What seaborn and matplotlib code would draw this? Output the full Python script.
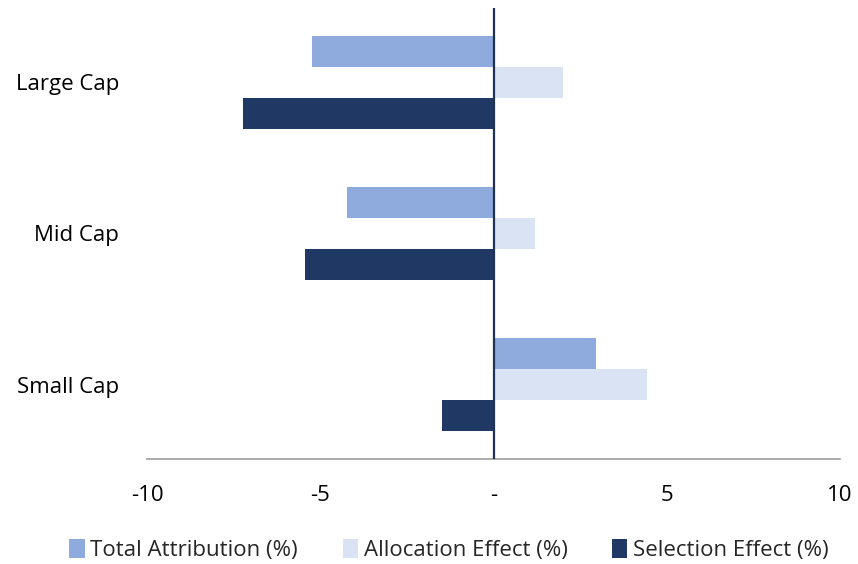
import matplotlib
matplotlib.use("Agg")
import matplotlib.pyplot as plt
import seaborn as sns
import pandas as pd

categories = ["Large Cap", "Mid Cap", "Small Cap"]
series = ["Total Attribution (%)", "Allocation Effect (%)", "Selection Effect (%)"]
total_attribution = [-5.25, -4.24, 2.97]
allocation_effect = [2.0, 1.21, 4.44]
selection_effect = [-7.24, -5.45, -1.50]
x_ticks = [-10, -5, 0, 5, 10]
x_tick_labels = ["-10", "-5", "-", "5", "10"]
colors = ["#8FAADC", "#DAE3F3", "#203864"]

rows = []
for s, vals in zip(series, [total_attribution, allocation_effect, selection_effect]):
    for c, v in zip(categories, vals):
        rows.append({"Category": c, "Series": s, "Value": v})
df = pd.DataFrame(rows)

sns.set_style("white")
plt.rcParams["font.family"] = ["Open Sans", "DejaVu Sans"]

fig = plt.figure(figsize=(8.58, 5.64), dpi=100)
ax = fig.add_axes([147/858, 1-459/564, (840-147)/858, (459-8)/564])

sns.barplot(data=df, x="Value", y="Category", hue="Series", order=categories,
            hue_order=series, palette=colors, orient="h", width=0.615,
            saturation=1, edgecolor="none", linewidth=0, ax=ax, legend=True)

ax.set_xlim(-10, 10)
ax.set_ylim(2.49, -0.49)
ax.set_xticks(x_ticks)
ax.set_xticklabels(x_tick_labels)
ax.set_xlabel("")
ax.set_ylabel("")
for sp in ["top", "right", "left"]:
    ax.spines[sp].set_visible(False)
ax.spines["bottom"].set_color("#A6A6A6")
ax.spines["bottom"].set_linewidth(1.3)
ax.axvline(0, color="#1F3356", linewidth=1.6, zorder=5)
ax.tick_params(axis="x", length=0, pad=19, labelsize=16, colors="#000000")
ax.tick_params(axis="y", length=0, pad=20, labelsize=16, colors="#000000")

handles, labels = ax.get_legend_handles_labels()
ax.legend_.remove()
fig.legend(handles, labels, loc="center", bbox_to_anchor=(449/858, 1-550/564),
           ncol=3, frameon=False, fontsize=16, handlelength=0.7, handleheight=0.9,
           handletextpad=0.25, columnspacing=2.0)

fig.savefig("out.png", dpi=100)
